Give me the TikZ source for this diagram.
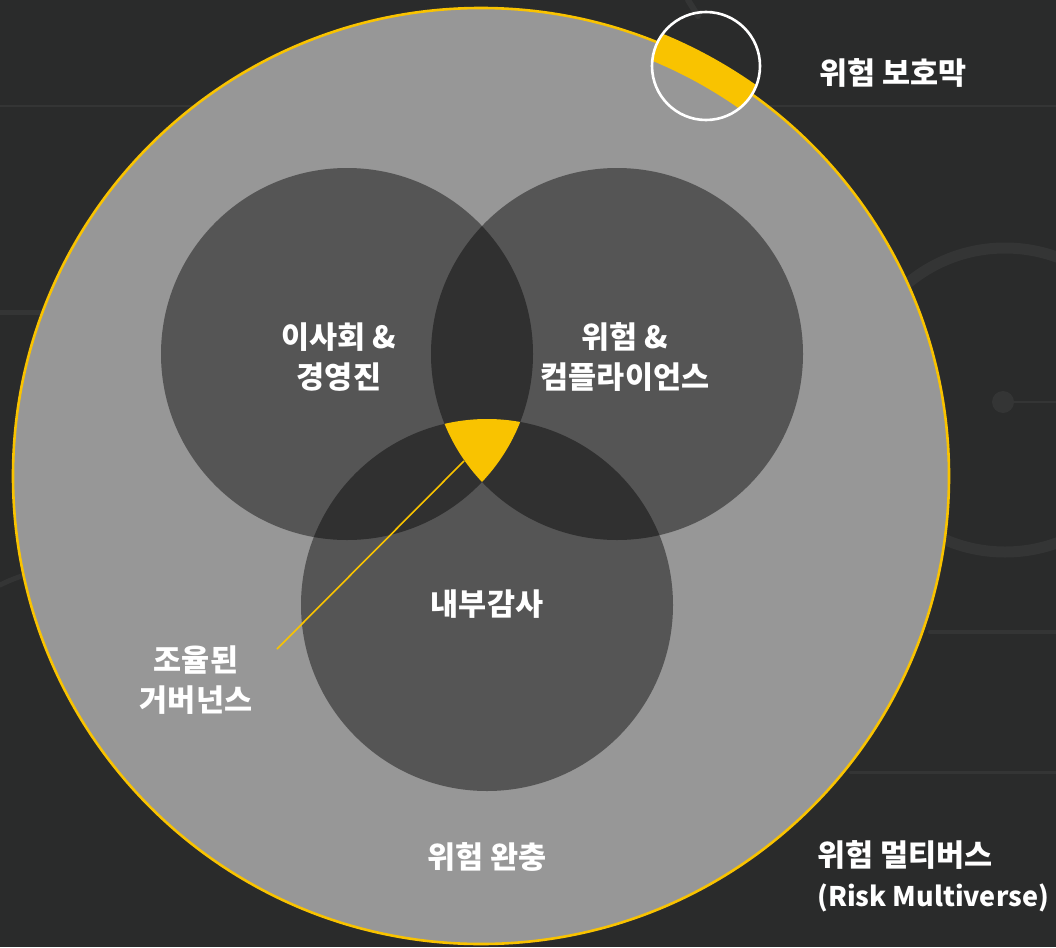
\documentclass[tikz,border=0pt]{standalone}
\usepackage{fontspec}
\newfontfamily\krfont{Noto Sans CJK KR}
\definecolor{bgc}{HTML}{2A2B2B}
\definecolor{decoc}{HTML}{343535}
\definecolor{outerc}{HTML}{979797}
\definecolor{circc}{HTML}{555555}
\definecolor{overc}{HTML}{303030}
\definecolor{goldc}{HTML}{F9C300}
\tikzset{
  lbl/.style={text=white, font=\krfont\bfseries\fontsize{30.5}{40}\selectfont, align=center, inner sep=0pt},
  deco/.style={draw=decoc, line cap=round},
  leader/.style={draw=goldc, line width=1.6pt}
}
\begin{document}
\begin{tikzpicture}[x=1pt,y=-1pt]
\fill[bgc] (0,0) rectangle (1056,947);
\useasboundingbox (0,0) rectangle (1056,947);
% faint background decorations
\draw[deco, line width=2pt] (0,106) -- (1056,106);
\draw[deco, line width=5pt] (0,312) -- (45,312);
\draw[deco, line width=4pt] (930,632) -- (1056,632);
\draw[deco, line width=3pt] (850,772) -- (1056,772);
\draw[deco, line width=11pt] (1005,400) circle (152pt);
\fill[decoc] (1003,402) circle (11pt);
\draw[deco, line width=2pt] (1003,402) -- (1056,402);
\draw[deco, line width=6pt] (688,0) -- (698,16);
\draw[deco, line width=5pt] (0,585) .. controls (20,575) and (40,570) .. (60,568);
% outer circle
\coordinate (O) at (481,476);
\filldraw[fill=outerc, draw=goldc, line width=2.6pt] (O) circle (468pt);
% venn circles
\coordinate (L) at (347,354);
\coordinate (R) at (617,354);
\coordinate (B) at (487,605);
\fill[circc] (L) circle (186pt);
\fill[circc] (R) circle (186pt);
\fill[circc] (B) circle (186pt);
\begin{scope}
  \clip (L) circle (186pt);
  \fill[overc] (R) circle (186pt);
  \fill[overc] (B) circle (186pt);
\end{scope}
\begin{scope}
  \clip (R) circle (186pt);
  \fill[overc] (B) circle (186pt);
\end{scope}
\begin{scope}
  \clip (L) circle (186pt);
  \clip (R) circle (186pt);
  \fill[goldc] (B) circle (186pt);
\end{scope}
% lens on the border
\coordinate (lens) at (706,66);
\begin{scope}
  \clip (lens) circle (54pt);
  \fill[goldc, even odd rule] (O) circle (478pt) (O) circle (449pt);
\end{scope}
\draw[white, line width=2.6pt] (lens) circle (54pt);
% labels
\node[lbl] (board) at (339,357) {이사회 \&\\경영진};
\node[lbl] (risk) at (625,357) {위험 \&\\컴플라이언스};
\node[lbl] (audit) at (487,604) {내부감사};
\node[lbl] (gov) at (196,680) {조율된\\거버넌스};
\node[lbl] (buffer) at (487,857) {위험 완충};
\node[lbl] (shield) at (893,73) {위험 보호막};
\node[lbl, align=left, anchor=west] (multi) at (817,876) {위험 멀티버스\\{\fontsize{27}{40}\selectfont (Risk Multiverse)}};
% leader
\coordinate (core) at (464,461);
\coordinate (govend) at (277,649);
\draw[leader] (core) -- (govend);
\end{tikzpicture}
\end{document}
